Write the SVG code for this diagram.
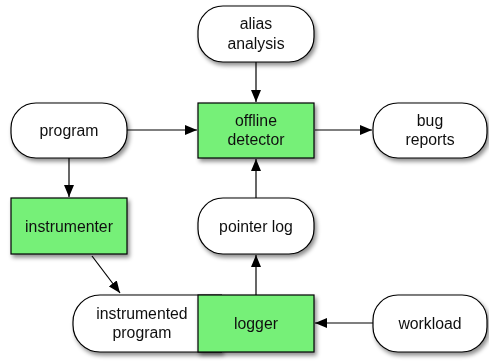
<svg xmlns="http://www.w3.org/2000/svg" width="489" height="362" viewBox="0 0 489 362">
  <defs>
    <filter id="shadow" x="-20%" y="-20%" width="140%" height="150%">
      <feDropShadow dx="2" dy="3" stdDeviation="2.2" flood-color="#000" flood-opacity="0.45"/>
    </filter>
    <marker id="arrow" viewBox="0 0 12 10" refX="12" refY="5" markerWidth="12" markerHeight="10" markerUnits="userSpaceOnUse" orient="auto">
      <path d="M0,0 L12,5 L0,10 Z" fill="#000"/>
    </marker>
  </defs>
  <style>
    .term { fill: #fff; stroke: #000; stroke-width: 1.2; }
    .proc { fill: #76f078; stroke: #000; stroke-width: 1.2; }
    .label { font-family: "Liberation Sans", Arial, sans-serif; font-size: 15.8px; fill: #111; text-anchor: middle; }
    .edge { stroke: #000; stroke-width: 1.2; fill: none; marker-end: url(#arrow); }
  </style>

  <rect width="489" height="362" fill="#fff"/>

  <g id="connectors">
    <line class="edge" x1="256" y1="62" x2="256" y2="102"/>
    <line class="edge" x1="127" y1="130" x2="197" y2="130"/>
    <line class="edge" x1="315" y1="130" x2="372" y2="130"/>
    <line class="edge" x1="69" y1="158" x2="69" y2="197"/>
    <line class="edge" x1="92" y1="256" x2="120" y2="293"/>
    <line class="edge" x1="256" y1="295" x2="256" y2="255"/>
    <line class="edge" x1="256" y1="198" x2="256" y2="159"/>
    <line class="edge" x1="373" y1="323" x2="315" y2="323"/>
  </g>

  <g id="alias-analysis" filter="url(#shadow)">
    <rect class="term" x="198" y="6" width="116" height="56" rx="25"/>
    <text class="label" x="256" y="29">alias</text>
    <text class="label" x="256" y="49">analysis</text>
  </g>

  <g id="program" filter="url(#shadow)">
    <rect class="term" x="11" y="103" width="116" height="55" rx="25"/>
    <text class="label" x="69" y="136">program</text>
  </g>

  <g id="offline-detector" filter="url(#shadow)">
    <rect class="proc" x="198" y="103" width="116" height="55"/>
    <text class="label" x="256" y="126">offline</text>
    <text class="label" x="256" y="145">detector</text>
  </g>

  <g id="bug-reports" filter="url(#shadow)">
    <rect class="term" x="373" y="103" width="114" height="55" rx="25"/>
    <text class="label" x="430" y="126">bug</text>
    <text class="label" x="430" y="145">reports</text>
  </g>

  <g id="instrumenter" filter="url(#shadow)">
    <rect class="proc" x="11" y="198" width="116" height="56"/>
    <text class="label" x="69" y="232">instrumenter</text>
  </g>

  <g id="pointer-log" filter="url(#shadow)">
    <rect class="term" x="198" y="198" width="116" height="56" rx="25"/>
    <text class="label" x="256" y="232">pointer log</text>
  </g>

  <g id="instrumented-program" filter="url(#shadow)">
    <path class="term" d="M222,295 H100 A27,27 0 0 0 73,322 V325 A27,27 0 0 0 100,352 H222"/>
    <text class="label" x="142" y="319">instrumented</text>
    <text class="label" x="142" y="338">program</text>
  </g>

  <g id="logger" filter="url(#shadow)">
    <rect class="proc" x="198" y="295" width="116" height="57"/>
    <text class="label" x="256" y="329">logger</text>
  </g>

  <g id="workload" filter="url(#shadow)">
    <rect class="term" x="373" y="295" width="114" height="57" rx="25"/>
    <text class="label" x="430" y="329">workload</text>
  </g>
</svg>
